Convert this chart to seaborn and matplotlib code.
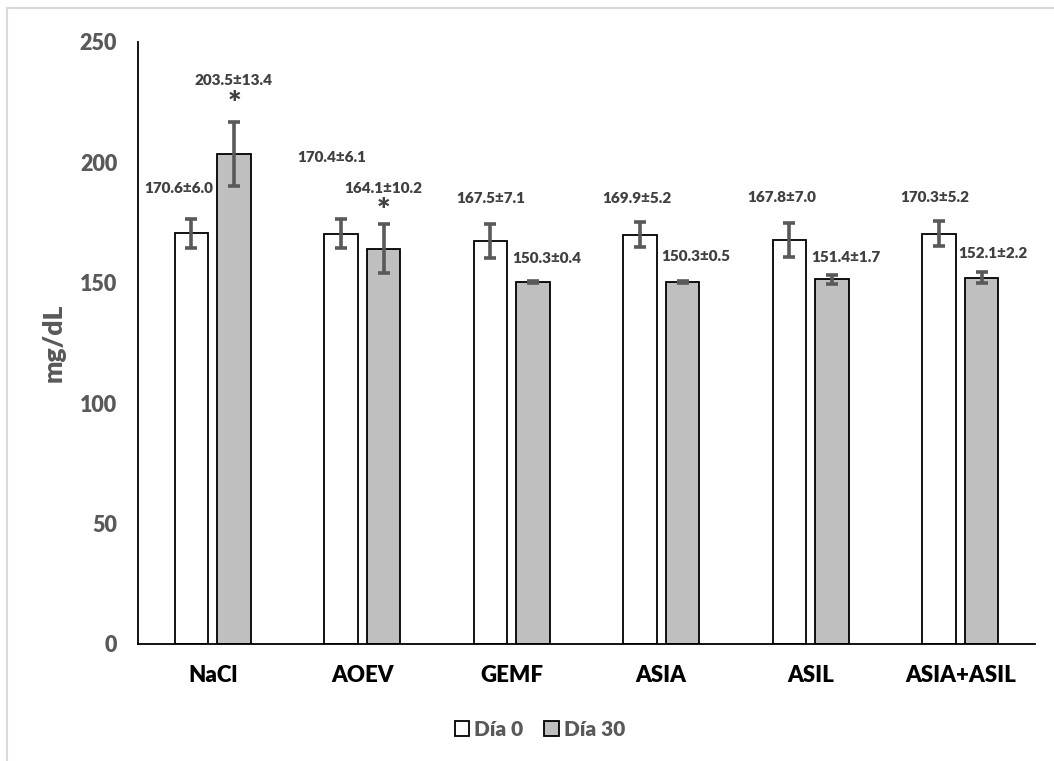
import pandas as pd
import seaborn as sns
import matplotlib.pyplot as plt
from matplotlib.patches import Rectangle

# values (mean and SD, mg/dL)
groups = ["NaCl", "AOEV", "GEMF", "ASIA", "ASIL", "ASIA+ASIL"]
days = ["Día 0", "Día 30"]
day0_mean = [170.6, 170.4, 167.5, 169.9, 167.8, 170.3]
day0_sd = [6.0, 6.1, 7.1, 5.2, 7.0, 5.2]
day30_mean = [203.5, 164.1, 150.3, 150.3, 151.4, 152.1]
day30_sd = [13.4, 10.2, 0.4, 0.5, 1.7, 2.2]
day30_signif = [True, True, False, False, False, False]

# where the value labels sit (data units) and their sideways nudge (px)
label_y0 = [189.7, 202.6, 185.6, 185.6, 186.0, 186.0]
label_y30 = [234.5, 189.7, 160.6, 161.5, 161.0, 162.7]
label_dx0 = [-13, -9, 0, -3, -8, -4]
label_dx30 = [-1, 0, 14, 13, 14, 11]
star_y = [224.0, 179.5]

W = "heavy"

sns.set_theme(style="white")
plt.rcParams["font.family"] = ["Lato", "DejaVu Sans"]
plt.rcParams["font.weight"] = W

df = pd.DataFrame({
    "group": groups * 2,
    "day": [days[0]] * 6 + [days[1]] * 6,
    "mean": day0_mean + day30_mean,
})

fig = plt.figure(figsize=(10.54, 7.61), dpi=100)
ax = fig.add_axes([138 / 1054, 1 - 644 / 761, (1035 - 138) / 1054, (644 - 42) / 761])

sns.barplot(data=df, x="group", y="mean", hue="day", order=groups, hue_order=days,
            palette=["white", "#BFBFBF"], edgecolor="black", linewidth=1.3,
            width=0.57, gap=0.21, errorbar=None, ax=ax)

gray_txt = "#404040"
for k, (means, sds, ys, dxs) in enumerate([(day0_mean, day0_sd, label_y0, label_dx0),
                                            (day30_mean, day30_sd, label_y30, label_dx30)]):
    bars = ax.containers[k]
    xs = [b.get_x() + b.get_width() / 2 for b in bars]
    ax.errorbar(xs, means, yerr=sds, fmt="none", ecolor="#595959",
                elinewidth=2.6, capsize=4.5, capthick=2.6, zorder=5)
    for x, m, s, y, dx in zip(xs, means, sds, ys, dxs):
        ax.annotate(f"{m:.1f}±{s:.1f}", (x, y), xytext=(dx * 0.72, 0),
                    textcoords="offset points", ha="center", va="center_baseline",
                    fontsize=11, fontweight=W, color=gray_txt)
    if k == 1:
        stars = [x for x, f in zip(xs, day30_signif) if f]
        for x, y in zip(stars, star_y):
            ax.text(x, y, "*", ha="center", va="center", fontsize=23,
                    fontweight=W, color=gray_txt)

ax.set_ylim(0, 250)
ax.set_yticks([0, 50, 100, 150, 200, 250])
ax.set_xlim(-0.5, len(groups) - 0.5)
ax.set_xlabel("")
ax.set_ylabel("")
ax.tick_params(axis="y", length=0, pad=15, labelsize=15.5, labelcolor="#595959")
ax.tick_params(axis="x", length=0, pad=15, labelsize=16, labelcolor="black")
for lab in ax.get_xticklabels() + ax.get_yticklabels():
    lab.set_fontweight(W)

sns.despine(ax=ax)
for side in ["left", "bottom"]:
    ax.spines[side].set_color("black")
    ax.spines[side].set_linewidth(1.3)

fig.text(54 / 1054, 1 - 343 / 761, "mg/dL", rotation=90, ha="center", va="center",
         fontsize=19, fontweight=W, color="#595959")

handles, labels = ax.get_legend_handles_labels()
ax.legend(handles, labels, loc="center", bbox_to_anchor=(540 / 1054, 1 - 729 / 761),
          bbox_transform=fig.transFigure, ncol=2, frameon=False,
          prop={"size": 15, "weight": W}, labelcolor="#595959",
          handlelength=0.7, handleheight=0.7, handletextpad=0.25, columnspacing=1.0)

# light grey chart border, open at the right and bottom like the source
fig.patches.append(Rectangle((7 / 1054, -0.05), 1.2, 1 - 8 / 761 + 0.05,
                             transform=fig.transFigure, fill=False,
                             edgecolor="#D9D9D9", linewidth=1.5))

fig.savefig("out.png", dpi=100)
